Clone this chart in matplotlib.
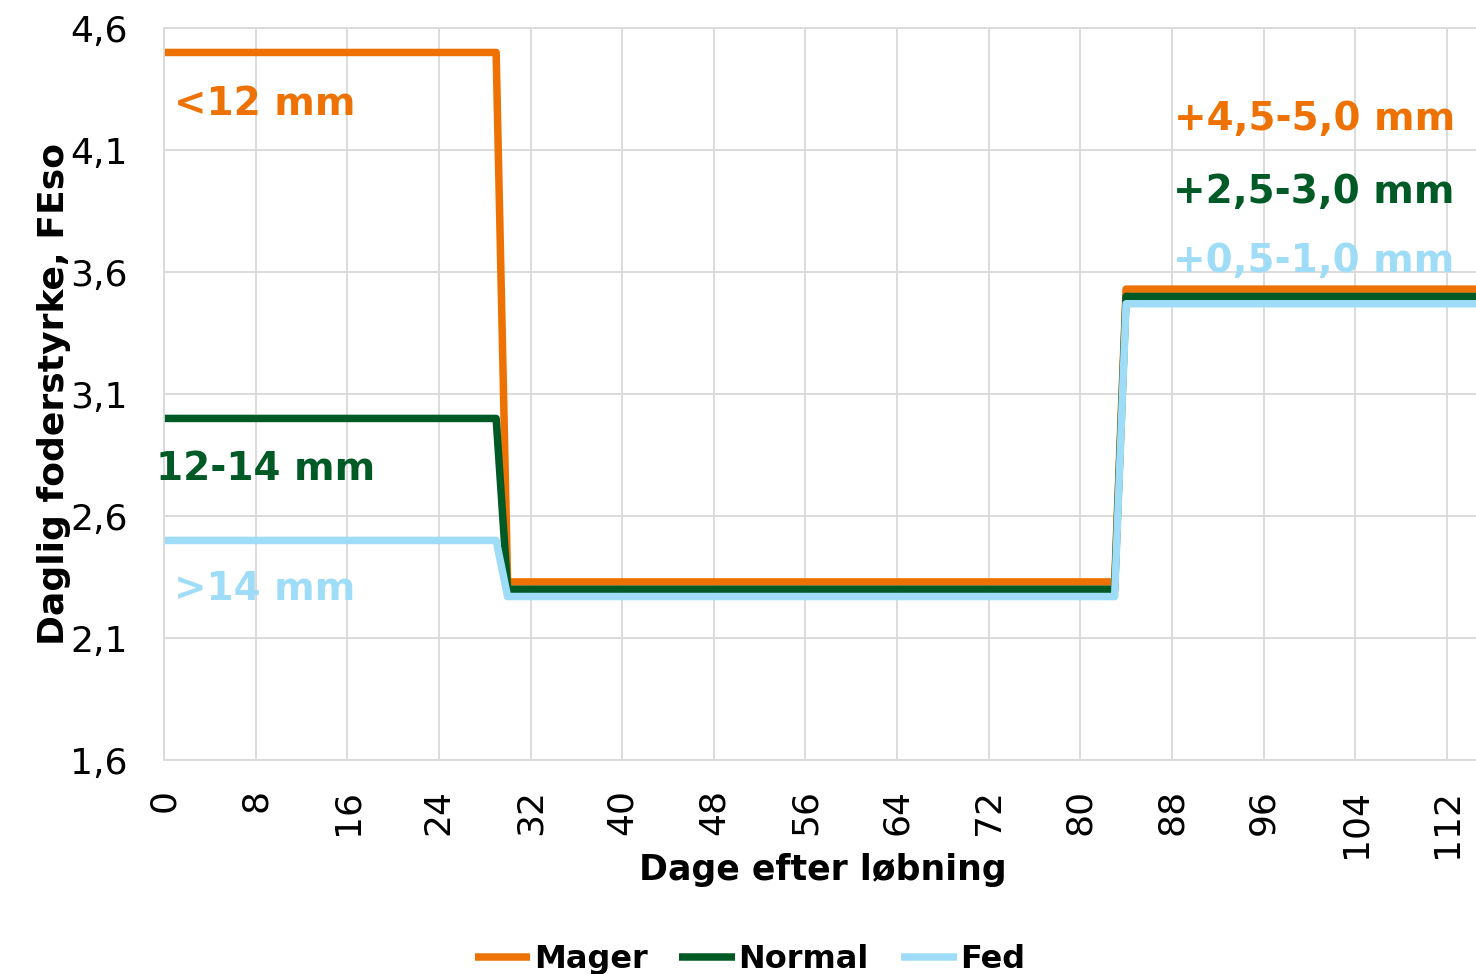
import matplotlib
matplotlib.use("Agg")
import matplotlib.pyplot as plt

# Daily feed level (FEso) per body-condition group, at the days where it changes
days = [0, 29, 30, 83, 84, 115]
mager = [4.5, 4.5, 2.33, 2.33, 3.53, 3.53]
normal = [3.0, 3.0, 2.30, 2.30, 3.50, 3.50]
fed = [2.5, 2.5, 2.27, 2.27, 3.47, 3.47]

series_names = ["Mager", "Normal", "Fed"]
series_colors = ["#EE7203", "#005A26", "#9EDCF7"]

x_ticks = list(range(0, 113, 8))
y_ticks = [1.6, 2.1, 2.6, 3.1, 3.6, 4.1, 4.6]
y_tick_labels = ["1,6", "2,1", "2,6", "3,1", "3,6", "4,1", "4,6"]

# Backfat labels: text, x, y (baseline), group colour index
left_notes = [("<12 mm", 0.9, 4.243, 0), ("12-14 mm", -0.7, 2.748, 1), (">14 mm", 0.9, 2.256, 2)]
right_notes = [("+4,5-5,0 mm", 112.7, 4.182, 0), ("+2,5-3,0 mm", 112.7, 3.882, 1),
               ("+0,5-1,0 mm", 112.7, 3.601, 2)]

grid_col = "#D9D9D9"

fig = plt.figure(figsize=(14.76, 9.74), dpi=100)
ax = fig.add_axes([0.1111, 0.2197, 0.8889, 0.7515])

for vals, name, col in zip([mager, normal, fed], series_names, series_colors):
    ax.plot(days, vals, color=col, lw=5.4, label=name,
            solid_joinstyle="round", solid_capstyle="butt")

ax.set_xlim(0, 114.55)
ax.set_ylim(1.6, 4.6)
ax.set_xticks(x_ticks)
ax.set_xticklabels([str(t) for t in x_ticks], rotation=90)
ax.set_yticks(y_ticks)
ax.set_yticklabels(y_tick_labels)
ax.tick_params(axis="both", length=0, labelsize=26, colors="black")
ax.tick_params(axis="y", pad=26)
ax.tick_params(axis="x", pad=21)

ax.grid(True, color=grid_col, lw=1.3)
ax.set_axisbelow(True)
for side in ["left", "bottom", "top"]:
    ax.spines[side].set_color(grid_col)
    ax.spines[side].set_linewidth(1.3)
ax.spines["right"].set_visible(False)

ax.set_xlabel("Dage efter løbning", fontsize=25, fontweight="bold")
ax.xaxis.label.set_va("baseline")
ax.xaxis.set_label_coords(0.502, (760 - 880) / 732)

ax.set_ylabel("Daglig foderstyrke, FEso", fontsize=26, fontweight="bold")
ax.yaxis.label.set_va("baseline")
ax.yaxis.set_label_coords((64 - 164) / 1312, 0.5)

for text, x, y, ci in left_notes:
    ax.text(x, y, text, ha="left", va="baseline", fontsize=28,
            fontweight="bold", color=series_colors[ci])
for text, x, y, ci in right_notes:
    ax.text(x, y, text, ha="right", va="baseline", fontsize=28,
            fontweight="bold", color=series_colors[ci])

fig.legend(loc="center", bbox_to_anchor=(0.508, 0.015), ncol=3, frameon=False,
           handlelength=1.75, handletextpad=0.1, columnspacing=1.0,
           prop={"size": 23, "weight": "bold"})

fig.savefig("out.png", dpi=100)
